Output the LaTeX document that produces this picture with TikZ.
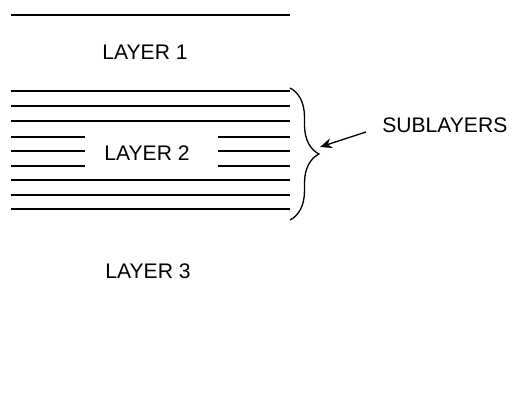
\documentclass[tikz,border=0pt]{standalone}
\usepackage{fontspec}
\setmainfont{Liberation Sans}
\usetikzlibrary{decorations.pathreplacing,arrows.meta}
\tikzset{
	sub/.style={
		line width = 0.75pt
	},
	lbl/.style={
		inner sep = 0pt,
		font = \fontsize{12}{14}\selectfont
	},
}
\tikzset{>={Stealth[length=2.4mm,width=2mm]}}

\begin{document}
\begin{tikzpicture}[x=0.02cm, y=-0.02cm]
    \useasboundingbox (0,0) rectangle (512,394);
    \draw[sub] (11,15) -- (290,15);
    \node[lbl] (l1) at (145,52) {LAYER 1};
    \foreach \y in {91,106,121,180,195,209}{
      \draw[sub] (11,\y) -- (290,\y);
    }
    \foreach \y in {137,151,166}{
      \draw[sub] (11,\y) -- (85,\y);
      \draw[sub] (218,\y) -- (290,\y);
    }
    \node[lbl] (l2) at (147,153) {LAYER 2};
    \node[lbl] (l3) at (148,271) {LAYER 3};
    \draw[line width=0.75pt, decorate, decoration={brace, amplitude=0.58cm}]
      (290,88) -- (290,220);
    \node[lbl, anchor=west] (sub) at (382,125) {SUBLAYERS};
    \coordinate (tail) at (366,132);
    \coordinate (tip) at (320,147);
    \draw[->, line width=0.75pt] (tail) -- (tip);
  \end{tikzpicture}
\end{document}
